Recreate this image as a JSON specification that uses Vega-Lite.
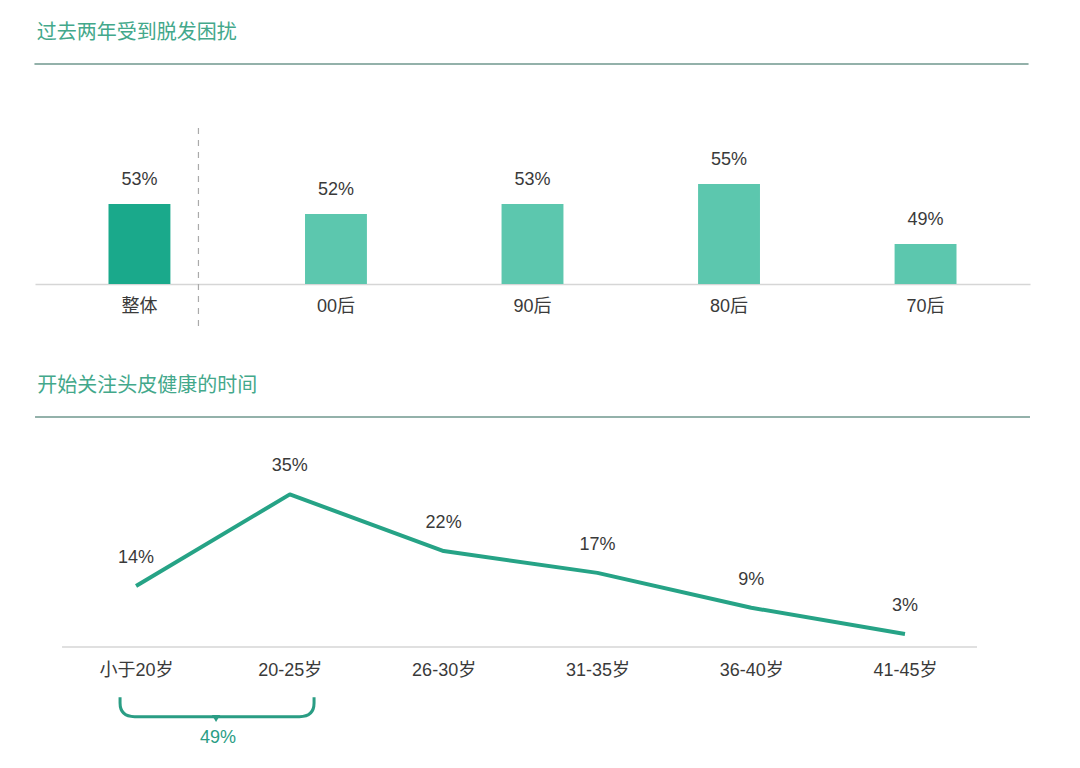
{
  "$schema": "https://vega.github.io/schema/vega-lite/v6.json",
  "background": "#ffffff",
  "padding": {"left": 33, "top": 23, "right": 10, "bottom": 10},
  "config": {
    "view": {"stroke": null},
    "font": "Liberation Sans, Noto Sans CJK SC",
    "title": {"anchor": "start", "font": "Noto Sans CJK SC", "fontSize": 20, "fontWeight": "normal", "color": "#43a88b", "baseline": "bottom", "offset": 20, "dx": 3}
  },
  "spacing": 43,
  "vconcat": [
    {
      "width": 995,
      "height": 220,
      "title": "过去两年受到脱发困扰",
      "data": {
        "values": [
          {"group": "整体", "share": 53, "label": "53%", "kind": "overall"},
          {"group": "00后", "share": 52, "label": "52%", "kind": "gen"},
          {"group": "90后", "share": 53, "label": "53%", "kind": "gen"},
          {"group": "80后", "share": 55, "label": "55%", "kind": "gen"},
          {"group": "70后", "share": 49, "label": "49%", "kind": "gen"}
        ]
      },
      "encoding": {
        "x": {
          "field": "group",
          "type": "nominal",
          "sort": null,
          "scale": {"paddingInner": 0.685, "paddingOuter": 0.374},
          "axis": {
            "title": null,
            "ticks": false,
            "domainColor": "#d6d6d6",
            "domainWidth": 1.5,
            "labelAngle": 0,
            "labelFontSize": 18,
            "labelColor": "#3a3a3a",
            "labelPadding": 13
          }
        },
        "y": {
          "field": "share",
          "type": "quantitative",
          "scale": {"domain": [45, 67], "zero": false, "nice": false},
          "axis": null
        }
      },
      "layer": [
        {
          "mark": {"type": "bar"},
          "encoding": {
            "y2": {"datum": 45},
            "color": {
              "field": "kind",
              "type": "nominal",
              "scale": {"domain": ["overall", "gen"], "range": ["#1aa98b", "#5cc7ae"]},
              "legend": null
            }
          }
        },
        {
          "mark": {"type": "text", "dy": -24, "baseline": "middle", "fontSize": 18, "color": "#3a3a3a"},
          "encoding": {"text": {"field": "label"}}
        },
        {
          "transform": [{"filter": "datum.group == '整体'"}],
          "mark": {"type": "rule", "color": "#aaaaaa", "strokeWidth": 1.2, "strokeDash": [6, 6], "xOffset": 59},
          "encoding": {"y": {"datum": 60.6}, "y2": {"datum": 40.2}}
        },
        {
          "transform": [
            {"window": [{"op": "last_value", "field": "group", "as": "lastGroup"}], "frame": [null, null]},
            {"filter": "datum.group == '整体'"}
          ],
          "mark": {"type": "rule", "color": "#6f978e", "strokeWidth": 1.5, "xOffset": -105, "x2Offset": 103},
          "encoding": {"x2": {"field": "lastGroup"}, "y": {"datum": 67}}
        }
      ]
    },
    {
      "width": 995,
      "height": 230,
      "title": "开始关注头皮健康的时间",
      "data": {
        "values": [
          {"age": "小于20岁", "share": 14, "label": "14%"},
          {"age": "20-25岁", "share": 35, "label": "35%"},
          {"age": "26-30岁", "share": 22, "label": "22%"},
          {"age": "31-35岁", "share": 17, "label": "17%"},
          {"age": "36-40岁", "share": 9, "label": "9%"},
          {"age": "41-45岁", "share": 3, "label": "3%"}
        ]
      },
      "encoding": {
        "x": {
          "field": "age",
          "type": "ordinal",
          "sort": null,
          "scale": {"type": "point", "padding": 0.735, "align": 0.447},
          "axis": {
            "title": null,
            "ticks": false,
            "domain": false,
            "labelAngle": 0,
            "labelFontSize": 18,
            "labelColor": "#3a3a3a",
            "labelPadding": 14
          }
        },
        "y": {
          "field": "share",
          "type": "quantitative",
          "scale": {"domain": [0, 52.75], "nice": false},
          "axis": null
        }
      },
      "layer": [
        {
          "mark": {"type": "line", "color": "#26a386", "strokeWidth": 4, "strokeJoin": "round"},
          "encoding": {}
        },
        {
          "mark": {"type": "text", "dy": -28, "baseline": "middle", "fontSize": 18, "color": "#3a3a3a"},
          "encoding": {"text": {"field": "label"}}
        },
        {
          "transform": [
            {"window": [{"op": "last_value", "field": "age", "as": "lastAge"}], "frame": [null, null]},
            {"filter": "datum.age == '小于20岁'"}
          ],
          "layer": [
            {
              "mark": {"type": "rule", "color": "#6f978e", "strokeWidth": 1.5, "xOffset": -101, "x2Offset": 125},
              "encoding": {"x2": {"field": "lastAge"}, "y": {"datum": 52.75}}
            },
            {
              "mark": {"type": "rule", "color": "#d6d6d6", "strokeWidth": 1.5, "xOffset": -74, "x2Offset": 72},
              "encoding": {"x2": {"field": "lastAge"}, "y": {"datum": 0}}
            }
          ]
        },
        {
          "transform": [{"filter": "datum.age == '小于20岁'"}],
          "mark": {
            "type": "point",
            "shape": "M -1 -0.1 L -1 -0.04 Q -1 0.1 -0.85 0.1 L 0.85 0.1 Q 1 0.1 1 -0.04 L 1 -0.1",
            "size": 37636,
            "filled": false,
            "stroke": "#2a9d84",
            "strokeWidth": 3,
            "opacity": 1,
            "xOffset": 81,
            "yOffset": 60
          },
          "encoding": {"y": {"datum": 0}}
        },
        {
          "transform": [{"filter": "datum.age == '小于20岁'"}],
          "mark": {"type": "point", "shape": "triangle-down", "size": 70, "filled": true, "color": "#2a9d84", "opacity": 1, "xOffset": 80, "yOffset": 71.5},
          "encoding": {"y": {"datum": 0}}
        },
        {
          "transform": [{"filter": "datum.age == '小于20岁'"}],
          "mark": {"type": "text", "text": "49%", "fontSize": 18, "color": "#2a9d84", "baseline": "middle", "xOffset": 82, "yOffset": 91},
          "encoding": {"y": {"datum": 0}}
        }
      ]
    }
  ]
}
